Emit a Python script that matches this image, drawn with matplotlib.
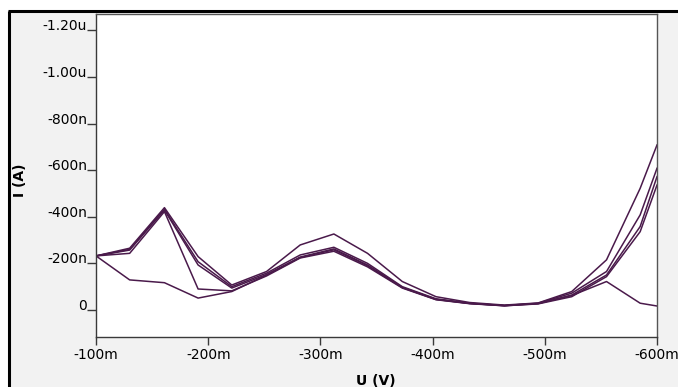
import matplotlib
matplotlib.use("Agg")
import matplotlib.pyplot as plt
from matplotlib.patches import Rectangle
from matplotlib.lines import Line2D
from matplotlib.ticker import FixedLocator

plt.rcParams['font.family'] = ['DejaVu Sans']

# Voltage sweep points (mV)
voltage_mV = [-100, -130, -161, -191, -221, -252, -282, -312, -342, -373,
              -403, -433, -464, -494, -524, -555, -585, -600]

# Currents (nA) for each measured curve
curve_1 = [-232, -265, -439, -229, -107, -165, -279, -326, -243, -122,
           -57, -32, -21, -30, -79, -215, -522, -708]
curve_2 = [-232, -260, -432, -207, -100, -158, -236, -269, -200, -100,
           -48, -29, -19, -29, -72, -165, -408, -608]
curve_3 = [-232, -257, -429, -193, -94, -152, -227, -262, -193, -97,
           -46, -28, -18, -27, -64, -150, -358, -572]
curve_4 = [-232, -243, -422, -90, -82, -146, -223, -252, -185, -94,
           -44, -27, -18, -26, -57, -143, -336, -536]
curve_5 = [-232, -129, -117, -51, -79, -150, -225, -258, -190, -96,
           -45, -28, -19, -28, -62, -122, -29, -17]

curves = [curve_1, curve_2, curve_3, curve_4, curve_5]

x_ticks = [-100, -200, -300, -400, -500, -600]
x_tick_labels = ['-100m', '-200m', '-300m', '-400m', '-500m', '-600m']
y_ticks = [-1200, -1000, -800, -600, -400, -200, 0]
y_tick_labels = ['-1.20u', '-1.00u', '-800n', '-600n', '-400n', '-200n', '0']

W, H = 678, 387
fig = plt.figure(figsize=(W / 100, H / 100), dpi=100)
fig.patch.set_facecolor('white')

# gray panel with thick black left/top border
bg = Rectangle((9 / W, 0), 1 - 9 / W, 1 - 11.5 / H, transform=fig.transFigure,
               facecolor='#f2f2f2', edgecolor='none', zorder=-10)
fig.add_artist(bg)
fig.add_artist(Line2D([8.5 / W, 8.5 / W], [0, 1 - 11 / H], transform=fig.transFigure,
                      color='black', lw=2.2, solid_capstyle='butt', zorder=-5))
fig.add_artist(Line2D([7.5 / W, 1], [1 - 11 / H, 1 - 11 / H], transform=fig.transFigure,
                      color='black', lw=2.2, solid_capstyle='butt', zorder=-5))

ax = fig.add_axes([96 / W, 1 - 337 / H, 561 / W, 323 / H])
ax.set_zorder(1)
ax.set_facecolor('white')

line_color = '#4a1a4b'
for c in curves:
    ax.plot(voltage_mV, c, color=line_color, lw=1.1)

ax.set_xlim(-100, -600)
ax.set_ylim(116, -1270)

ax.xaxis.set_major_locator(FixedLocator(x_ticks))
ax.set_xticklabels(x_tick_labels)
ax.yaxis.set_major_locator(FixedLocator(y_ticks))
ax.set_yticklabels(y_tick_labels)

for s in ['left', 'bottom']:
    ax.spines[s].set_color('#3a3a3a')
    ax.spines[s].set_linewidth(1.0)
for s in ['top', 'right']:
    ax.spines[s].set_color('#555555')
    ax.spines[s].set_linewidth(1.0)

ax.tick_params(axis='x', direction='out', length=6, width=1, color='#3a3a3a',
               labelsize=10, pad=2, labelcolor='black')
ax.tick_params(axis='y', direction='out', length=6.5, width=1, color='#3a3a3a',
               labelsize=10, pad=0, labelcolor='black')
for lab in ax.get_yticklabels():
    lab.set_verticalalignment('baseline')

fig.text(376 / W, 1 - 381 / H, 'U (V)', fontsize=10, fontweight='bold',
         ha='center', va='center')
fig.text(20 / W, 1 - 180 / H, 'I (A)', fontsize=10, fontweight='bold',
         ha='center', va='center', rotation=90)

fig.savefig('out.png', dpi=100, facecolor=fig.get_facecolor())
